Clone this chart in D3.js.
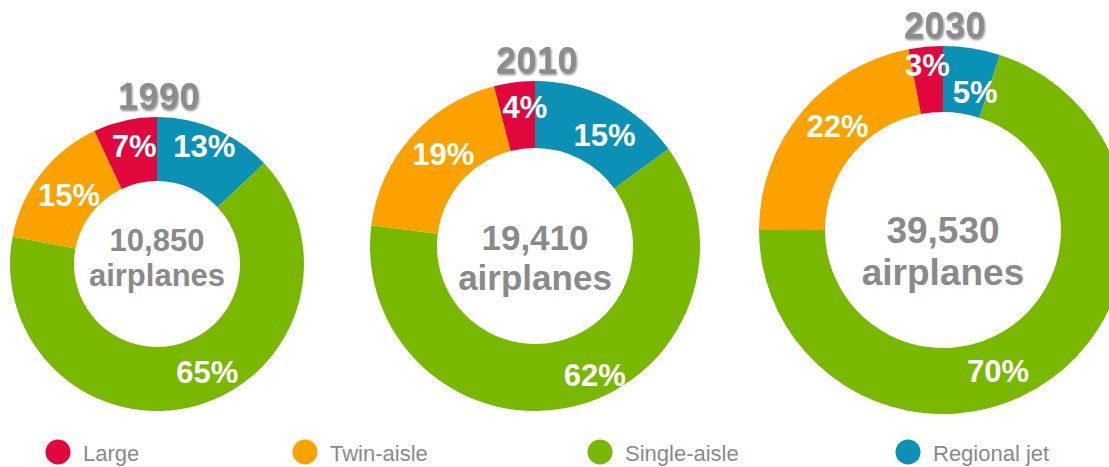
<!DOCTYPE html>
<html>
<head>
<meta charset="utf-8">
<script src="https://cdn.jsdelivr.net/npm/d3@7"></script>
<style>
  html, body { margin: 0; padding: 0; background: #ffffff; overflow: hidden; }
  svg { display: block; }
</style>
</head>
<body>
<div id="chart"></div>
<script>
// ---- data ----
const categories = ["Large", "Twin-aisle", "Single-aisle", "Regional jet"];
const years = ["1990", "2010", "2030"];
const totals = ["10,850", "19,410", "39,530"];
const share1990 = [7, 15, 65, 13];
const share2010 = [4, 19, 62, 15];
const share2030 = [3, 22, 70, 5];
const shares = [share1990, share2010, share2030];
const colors = ["#e1063b", "#fba200", "#78b900", "#0b91b5"];

// ---- layout (not data) ----
const W = 1109, H = 467;
const donutLayout = [
  { cx: 157, cy: 264, R: 147, r: 83, font: 31, textMid: 4 },
  { cx: 535, cy: 246, R: 165, r: 98, font: 35, textMid: 24 },
  { cx: 943, cy: 230, R: 184, r: 118, font: 37, textMid: 34 }
];
// label nudges (px) per category index: Large, Twin-aisle, Single-aisle, Regional jet
const labelNudge = [
  [[3, -2], [6, 4], [17, -6], [0, -9]],
  [[7, -5], [10, -3], [26, -2], [8, 10]],
  [[-1, -11], [14, -5], [-36, 15], [8, 15]]
];
const legendX = [58, 305, 600, 908];

const svg = d3.select("#chart").append("svg")
  .attr("width", W).attr("height", H);

const defs = svg.append("defs");
const f = defs.append("filter").attr("id", "shadow")
  .attr("x", "-20%").attr("y", "-20%").attr("width", "140%").attr("height", "150%");
f.append("feDropShadow").attr("dx", 1).attr("dy", 2).attr("stdDeviation", 1)
  .attr("flood-color", "#333").attr("flood-opacity", 0.55);

const FONT = "'Liberation Sans', Arial, Helvetica, sans-serif";

// pie order clockwise from 12 o'clock: Regional jet, Single-aisle, Twin-aisle, Large
const pieOrder = [3, 2, 1, 0];
const pie = d3.pie().sort(null).value(d => d.v);

years.forEach((yr, i) => {
  const L = donutLayout[i];
  const g = svg.append("g").attr("transform", `translate(${L.cx},${L.cy})`);
  const items = pieOrder.map(k => ({ k, v: shares[i][k] }));
  const arcs = pie(items);
  const arc = d3.arc().innerRadius(L.r).outerRadius(L.R);
  const lr = (L.R + L.r) / 2 + 4;
  const labelArc = d3.arc().innerRadius(lr).outerRadius(lr);

  g.selectAll("path.slice").data(arcs).join("path")
    .attr("class", "slice")
    .attr("d", arc)
    .attr("fill", d => colors[d.data.k]);

  g.selectAll("text.pct").data(arcs).join("text")
    .attr("class", "pct")
    .attr("transform", d => {
      const c = labelArc.centroid(d);
      const n = labelNudge[i][d.data.k];
      return `translate(${c[0] + n[0]},${c[1] + n[1]})`;
    })
    .attr("text-anchor", "middle")
    .attr("dy", "0.36em")
    .attr("font-family", FONT)
    .attr("font-weight", "bold")
    .attr("font-size", 31)
    .attr("fill", "#ffffff")
    .text(d => d.data.v + "%");

  // center text (two lines)
  const gap = L.font * 1.13;
  g.append("text")
    .attr("text-anchor", "middle")
    .attr("y", L.textMid - gap / 2)
    .attr("font-family", FONT).attr("font-weight", "bold")
    .attr("font-size", L.font).attr("fill", "#8a8a8a")
    .text(totals[i]);
  g.append("text")
    .attr("text-anchor", "middle")
    .attr("y", L.textMid + gap / 2)
    .attr("font-family", FONT).attr("font-weight", "bold")
    .attr("font-size", L.font).attr("fill", "#8a8a8a")
    .text("airplanes");

  // title
  g.append("text")
    .attr("text-anchor", "middle")
    .attr("x", 2)
    .attr("y", -L.R - 8)
    .attr("font-family", FONT).attr("font-weight", "bold")
    .attr("font-size", 36).attr("letter-spacing", 0.5)
    .attr("fill", "#8c8c8c")
    .attr("filter", "url(#shadow)")
    .text(yr);
});

// legend
const lg = svg.append("g");
categories.forEach((c, k) => {
  lg.append("circle")
    .attr("cx", legendX[k]).attr("cy", 452).attr("r", 12.5)
    .attr("fill", colors[k]);
  lg.append("text")
    .attr("x", legendX[k] + 25).attr("y", 461)
    .attr("font-family", FONT).attr("font-size", 22)
    .attr("fill", "#8a8a8a")
    .text(c);
});
</script>
</body>
</html>
